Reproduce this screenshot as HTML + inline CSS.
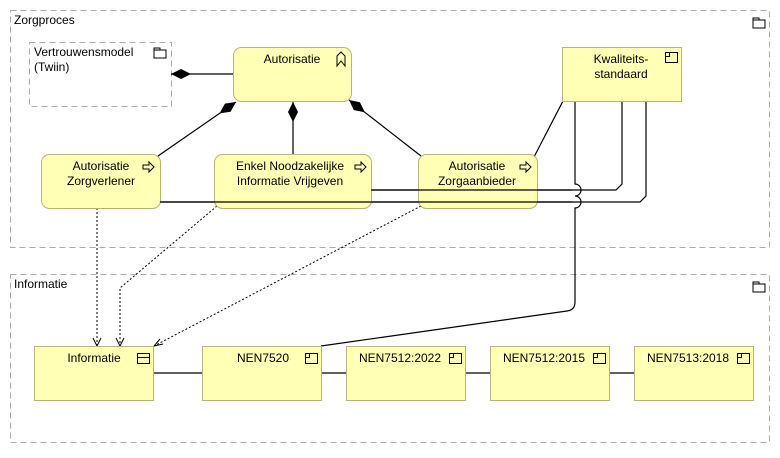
<!DOCTYPE html>
<html><head><style>
body{margin:0;background:#fff;}
svg text{font-family:"Liberation Sans",sans-serif;font-size:12px;fill:#000;}
</style></head><body>
<svg width="780" height="453" viewBox="0 0 780 453" xmlns="http://www.w3.org/2000/svg">
<defs>
<marker id="d" viewBox="0 0 20 10" refX="20" refY="5" markerWidth="20" markerHeight="10" markerUnits="userSpaceOnUse" orient="auto"><path d="M0,5 L10,0 L20,5 L10,10Z" fill="#000"/></marker>
</defs>
<g fill="none" stroke="#aaa" stroke-dasharray="6,4">
<rect x="10.5" y="10.5" width="759" height="237"/>
<rect x="10.5" y="274.5" width="759" height="168"/>
<rect x="29.5" y="42.5" width="142" height="64"/>
</g>
<text x="14" y="24">Zorgproces</text>
<text x="14" y="288">Informatie</text>
<g fill="none" stroke="#000" stroke-width="1">
<path d="M753,18h6v2h6v8h-12z M753,20h6"/>
<path d="M753,282h6v2h6v8h-12z M753,284h6"/>
<path d="M154,48h6v2h6v8h-12z M154,50h6"/>
</g>
<text x="34" y="56">Vertrouwensmodel</text>
<text x="34" y="71">(Twiin)</text>
<g fill="none" stroke="#000" stroke-width="1.2">
<path d="M563,101 L534,157"/>
<path d="M575,101 V184 a4,4 0 0 1 0,12 V196 a4,4 0 0 1 0,12 V302 Q575,310 567,311 L321,346"/>
<path d="M622,101 V184 L616,190 H371"/>
<path d="M646,101 V196 L640,202 H160"/>
<path d="M153,373 H202 M321,373 H346 M465,373 H490 M609,373 H634"/>
</g>
<g fill="none" stroke="#000" stroke-width="1" stroke-dasharray="2,2">
<path d="M97,208 V346"/>
<path d="M217,206 L120,288 V346"/>
<path d="M421,206 L154,346"/>
</g>
<g fill="none" stroke="#000" stroke-width="1">
<path d="M93,338 L97,346 L101,338"/><path d="M116,338 L120,346 L124,338"/><path d="M160,339 L154,346 L163,344"/>
</g>
<g fill="#ffffb5" stroke="#b5b57a">
<rect x="233.5" y="47.5" width="118" height="54" rx="8"/>
<rect x="41.5" y="154.5" width="119" height="54" rx="8"/>
<rect x="214.5" y="154.5" width="157" height="54" rx="8"/>
<rect x="418.5" y="154.5" width="119" height="54" rx="8"/>
<rect x="562.5" y="47.5" width="119" height="54"/>
<rect x="34.5" y="346.5" width="119" height="54"/>
<rect x="202.5" y="346.5" width="119" height="54"/>
<rect x="346.5" y="346.5" width="119" height="54"/>
<rect x="490.5" y="346.5" width="119" height="54"/>
<rect x="634.5" y="346.5" width="119" height="54"/>
</g>
<g fill="none" stroke="#000" stroke-width="1.2">
<path d="M572,190 H371"/><path d="M572,202 H160"/>
<path d="M233,74 L171,74" marker-end="url(#d)"/>
<path d="M158,156 L236,102" marker-end="url(#d)"/>
<path d="M293,154 L293,102" marker-end="url(#d)"/>
<path d="M421,156 L349,100" marker-end="url(#d)"/>
</g>
<g text-anchor="middle">
<text x="292" y="63">Autorisatie</text>
<text x="101" y="170">Autorisatie</text><text x="101" y="185">Zorgverlener</text>
<text x="290" y="170">Enkel Noodzakelijke</text><text x="290" y="185">Informatie Vrijgeven</text>
<text x="477" y="170">Autorisatie</text><text x="477" y="185">Zorgaanbieder</text>
<text x="621" y="63">Kwaliteits-</text><text x="621" y="78">standaard</text>
<text x="94" y="362">Informatie</text>
<text x="263" y="362">NEN7520</text>
<text x="400" y="362">NEN7512:2022</text>
<text x="544" y="362">NEN7512:2015</text>
<text x="688" y="362">NEN7513:2018</text>
</g>
<g fill="none" stroke="#000" stroke-width="1">
<path d="M337,66 V56 L341,52 L345,56 V66 L341,61 Z"/>
<path d="M143,165h6v-3l5,5-5,5v-3h-6z"/>
<path d="M355,165h6v-3l5,5-5,5v-3h-6z"/>
<path d="M520,165h6v-3l5,5-5,5v-3h-6z"/>
<rect x="665.5" y="52.5" width="12" height="10"/><path d="M665.5,56.5h4v-4"/>
<rect x="137.5" y="353.5" width="12" height="10"/><path d="M137.5,357.5h12"/>
<rect x="305.5" y="353.5" width="12" height="10"/><path d="M305.5,357.5h4v-4"/>
<rect x="449.5" y="353.5" width="12" height="10"/><path d="M449.5,357.5h4v-4"/>
<rect x="593.5" y="353.5" width="12" height="10"/><path d="M593.5,357.5h4v-4"/>
<rect x="737.5" y="353.5" width="12" height="10"/><path d="M737.5,357.5h4v-4"/>
</g>
</svg>
</body></html>
